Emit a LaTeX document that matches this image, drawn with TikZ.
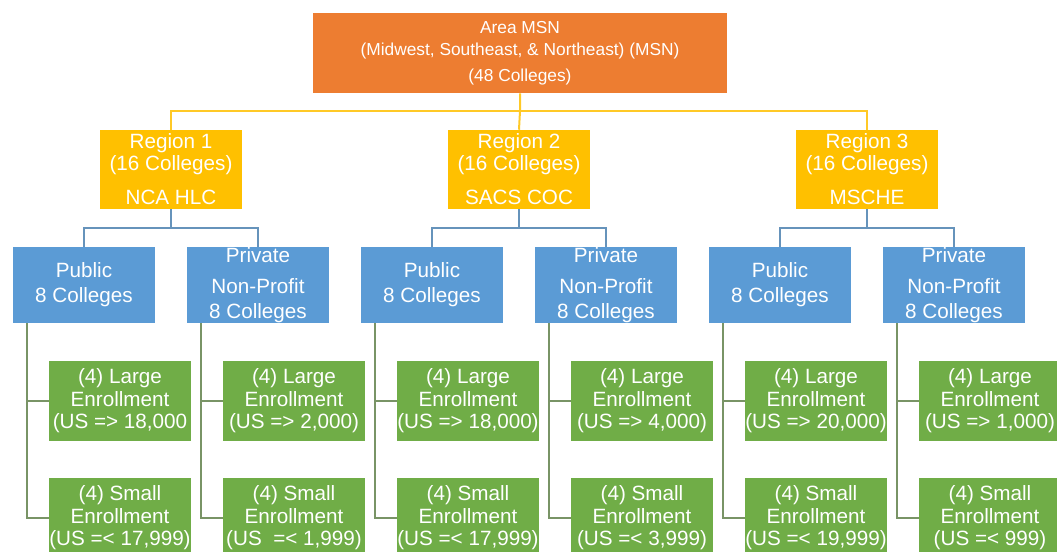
\documentclass[tikz,border=0pt]{standalone}
\usepackage{fontspec}
\setmainfont{Liberation Sans}
\definecolor{msnorange}{HTML}{ED7D31}
\definecolor{msnyellow}{HTML}{FFC000}
\definecolor{msnblue}{HTML}{5B9BD5}
\definecolor{msngreen}{HTML}{70AD47}
\tikzset{
    box/.style={inner sep=0pt, align=center, text=white},
    areabox/.style={box, fill=msnorange, minimum width=310.5pt, minimum height=60pt,
        font=\fontsize{13}{16.5}\selectfont},
    regionbox/.style={box, fill=msnyellow, minimum width=106.5pt, minimum height=59.25pt,
        font=\fontsize{15.5}{16.5}\selectfont},
    sectorbox/.style={box, fill=msnblue, minimum width=106.5pt, minimum height=57pt,
        font=\fontsize{15.5}{18.75}\selectfont},
    sizebox/.style={box, fill=msngreen, minimum width=106.5pt, minimum height=60pt,
        font=\fontsize{15.5}{16.9}\selectfont},
    yline/.style={draw=msnyellow!85!white, line width=1.5pt},
    bline/.style={draw=msnblue!70!gray, line width=1.5pt},
    gline/.style={draw=msngreen!45!gray, line width=1.5pt}
}
\begin{document}
\begin{tikzpicture}[x=0.75pt, y=-0.75pt]
    \useasboundingbox (0,0) rectangle (1057,552);
    \clip (0,0) rectangle (1057,552);

    % Area
    \node[areabox] (area) at (520,53) {Area MSN\\(Midwest, Southeast, \& Northeast) (MSN)\\[3pt](48 Colleges)};
    \coordinate (ybus) at (520,111);

    % Regions, sectors and enrollment groups
    \foreach \n/\acc/\pubL/\pubS/\priL/\priS [evaluate=\n as \cx using {171+348*(\n-1)}] in {
        1/NCA HLC/{(US => 18,000}/{(US =< 17,999)}/{(US => 2,000)}/{(US \ =< 1,999)},
        2/SACS COC/{(US => 18,000)}/{(US =< 17,999)}/{(US => 4,000)}/{(US =< 3,999)},
        3/MSCHE/{(US => 20,000)}/{(US =< 19,999)}/{(US => 1,000)}/{(US =< 999)}}
    {
        \node[regionbox] (reg\n) at (\cx,169.5) {Region \n\\(16 Colleges)\\[9pt]\acc};
        \node[sectorbox] (pub\n) at (\cx-87,285) {Public\\8 Colleges};
        \node[sectorbox] (pri\n) at (\cx+87,285) {Private\\[5pt]Non-Profit\\8 Colleges};
        \node[sizebox] (publ\n) at (\cx-51,401) {(4) Large\\Enrollment\\\pubL};
        \node[sizebox] (pubs\n) at (\cx-51,518) {(4) Small\\Enrollment\\\pubS};
        \node[sizebox] (pril\n) at (\cx+123,401) {(4) Large\\Enrollment\\\priL};
        \node[sizebox] (pris\n) at (\cx+123,518) {(4) Small\\Enrollment\\\priS};

        % connectors
        \coordinate (bbus\n) at (\cx,228);
        \draw[bline] (reg\n.south) -- (bbus\n);
        \draw[bline] (pub\n.north) |- (bbus\n) -| (pri\n.north);
        \draw[gline] ([xshift=10.5pt]pub\n.south west) |- (publ\n.west);
        \draw[gline] ([xshift=10.5pt]pub\n.south west) |- (pubs\n.west);
        \draw[gline] ([xshift=10.5pt]pri\n.south west) |- (pril\n.west);
        \draw[gline] ([xshift=10.5pt]pri\n.south west) |- (pris\n.west);
    }

    % Area to regions
    \draw[yline] (area.south) -- (ybus) -- (reg2.north);
    \draw[yline] (reg1.north) |- (ybus) -| (reg3.north);
\end{tikzpicture}
\end{document}
